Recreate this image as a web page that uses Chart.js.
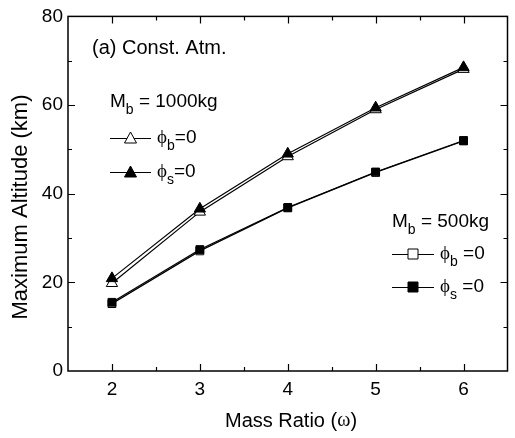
<!DOCTYPE html>
<html>
<head>
<meta charset="utf-8">
<script src="https://cdn.jsdelivr.net/npm/chart.js@4"></script>
<style>
  html, body { margin: 0; padding: 0; background: #fff; }
  #wrap { width: 515px; height: 438px; }
</style>
</head>
<body>
<div id="wrap"><canvas id="chart" width="515" height="438"></canvas></div>
<script>
// data
const massRatio = [2, 3, 4, 5, 6];
const big_phiB = [19.8, 35.9, 48.4, 59.0, 68.1];   // Mb=1000kg, open triangle
const big_phiS = [20.9, 36.6, 49.0, 59.4, 68.5];   // Mb=1000kg, filled triangle
const small_phiB = [15.2, 27.1, 36.8, 44.8, 51.9]; // Mb=500kg, open square
const small_phiS = [15.5, 27.4, 36.9, 44.9, 52.0]; // Mb=500kg, filled square
const xTicks = [2, 3, 4, 5, 6];
const yTicks = [0, 20, 40, 60, 80];

const FONT = 'Liberation Sans, Arial, sans-serif';
const SERIF = 'Liberation Serif, Times New Roman, serif';

function pts(ys) {
  return massRatio.map((x, i) => ({ x: x, y: ys[i] }));
}

function series(ys, shape, fill) {
  return {
    data: pts(ys),
    borderColor: '#000',
    borderWidth: 1.2,
    pointStyle: shape,
    pointRadius: shape === 'triangle' ? 6.5 : 5.5,
    pointBackgroundColor: fill,
    pointBorderColor: '#000',
    pointBorderWidth: 1,
    fill: false,
    tension: 0
  };
}

// frame, inward ticks, titles and legend text
const decor = {
  id: 'decor',
  afterDraw(chart) {
    const c = chart.ctx;
    const a = chart.chartArea;
    const xs = chart.scales.x, ys = chart.scales.y;
    c.save();
    c.strokeStyle = '#000';
    c.lineWidth = 1.5;
    c.strokeRect(a.left, a.top, a.right - a.left, a.bottom - a.top);
    c.lineWidth = 1.2;
    c.beginPath();
    for (let v = 2; v <= 6.01; v += 0.5) {
      const px = Math.round(xs.getPixelForValue(v)) + 0.5;
      const len = Number.isInteger(v) ? 7 : 4;
      c.moveTo(px, a.bottom); c.lineTo(px, a.bottom - len);
      c.moveTo(px, a.top); c.lineTo(px, a.top + len);
    }
    for (let v = 10; v < 80; v += 10) {
      const py = Math.round(ys.getPixelForValue(v)) + 0.5;
      const len = v % 20 === 0 ? 7 : 4;
      c.moveTo(a.left, py); c.lineTo(a.left + len, py);
      c.moveTo(a.right, py); c.lineTo(a.right - len, py);
    }
    c.stroke();

    c.fillStyle = '#000';
    c.textBaseline = 'middle';

    // x title, omega in serif
    const t1 = 'Mass Ratio (';
    c.font = '20px ' + SERIF;
    const wOm = c.measureText('\u03c9').width;
    c.font = '20px ' + FONT;
    const w1 = c.measureText(t1).width, w2 = c.measureText(')').width;
    const x0 = 291 - (w1 + wOm + w2) / 2;
    c.textAlign = 'left';
    c.fillText(t1, x0, 421);
    c.font = '20px ' + SERIF;
    c.fillText('\u03c9', x0 + w1, 421);
    c.font = '20px ' + FONT;
    c.fillText(')', x0 + w1 + wOm, 421);

    // y title
    c.save();
    c.translate(21, 207);
    c.rotate(-Math.PI / 2);
    c.textAlign = 'center';
    c.font = '22px ' + FONT;
    c.fillText('Maximum Altitude (km)', 0, 0);
    c.restore();

    // annotation
    c.textAlign = 'left';
    c.font = '20px ' + FONT;
    c.fillText('(a) Const. Atm.', 92, 48);

    function sub(main, s, rest, x, y, mainFont) {
      c.font = '19px ' + (mainFont || FONT);
      c.fillText(main, x, y);
      let w = c.measureText(main).width;
      c.font = '14px ' + FONT;
      c.fillText(s, x + w, y + 8);
      w += c.measureText(s).width;
      c.font = '19px ' + FONT;
      c.fillText(rest, x + w, y);
    }
    function sample(x1, x2, y, shape, fill) {
      c.lineWidth = 1;
      c.beginPath();
      c.moveTo(x1, y + 0.5); c.lineTo(x2, y + 0.5);
      c.stroke();
      const cx = (x1 + x2) / 2;
      c.fillStyle = fill;
      c.beginPath();
      if (shape === 'triangle') {
        c.moveTo(cx, y - 6); c.lineTo(cx + 6, y + 5); c.lineTo(cx - 6, y + 5); c.closePath();
      } else {
        c.rect(cx - 5, y - 5, 10, 10);
      }
      c.fill(); c.stroke();
      c.fillStyle = '#000';
    }

    const PHI = '\u03d5';
    sub('M', 'b', ' = 1000kg', 110, 102);
    sample(110, 151, 138, 'triangle', '#fff');
    sub(PHI, 'b', '=0', 157, 138, SERIF);
    sample(110, 151, 172, 'triangle', '#000');
    sub(PHI, 's', '=0', 157, 172, SERIF);

    sub('M', 'b', ' = 500kg', 392, 222);
    sample(392, 434, 254, 'rect', '#fff');
    sub(PHI, 'b', ' =0', 440, 254, SERIF);
    sample(392, 434, 287, 'rect', '#000');
    sub(PHI, 's', ' =0', 440, 287, SERIF);
    c.restore();
  }
};

new Chart(document.getElementById('chart'), {
  type: 'line',
  data: {
    // filled markers first so they sit on top
    datasets: [
      series(big_phiS, 'triangle', '#000'),
      series(small_phiS, 'rect', '#000'),
      series(big_phiB, 'triangle', '#fff'),
      series(small_phiB, 'rect', '#fff')
    ]
  },
  options: {
    responsive: false,
    animation: false,
    layout: { padding: { left: 0, right: 3, top: 13, bottom: 0 } },
    plugins: { legend: { display: false }, tooltip: { enabled: false } },
    scales: {
      x: {
        type: 'linear',
        min: 1.5, max: 6.5,
        grid: { display: false, drawTicks: false },
        border: { display: false },
        afterBuildTicks: s => { s.ticks = xTicks.map(v => ({ value: v })); },
        afterFit: s => { s.height = 67; },
        ticks: { color: '#000', padding: 7, font: { family: FONT, size: 19 } }
      },
      y: {
        min: 0, max: 80,
        grid: { display: false, drawTicks: false },
        border: { display: false },
        afterBuildTicks: s => { s.ticks = yTicks.map(v => ({ value: v })); },
        afterFit: s => { s.width = 68; },
        ticks: { color: '#000', padding: 5, font: { family: FONT, size: 19 } }
      }
    }
  },
  plugins: [decor]
});
</script>
</body>
</html>
